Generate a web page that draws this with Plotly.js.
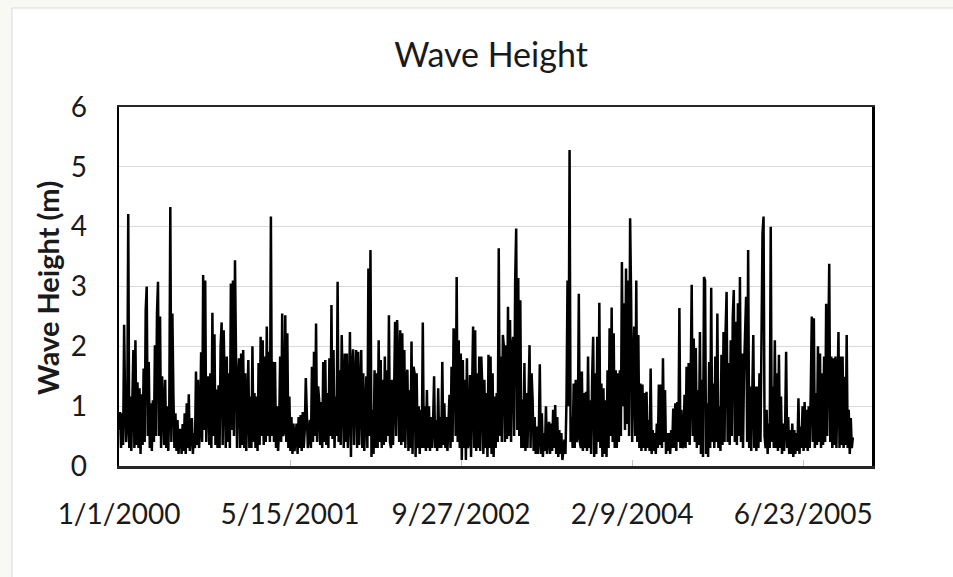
<!DOCTYPE html>
<html>
<head>
<meta charset="utf-8">
<script src="https://cdn.plot.ly/plotly-3.0.1.min.js"></script>
<style>
  html, body { margin: 0; padding: 0; background: #f8f8f4; }
  #chart { width: 953px; height: 577px; }
</style>
</head>
<body>
<div id="chart"></div>
<script>
// Significant wave height record, one reading every 3 days from 1 Jan 2000
const startDate = '2000-01-01';
const stepDays = 3;

const waveHeight = [
  // 2000
  0.6,0.9,0.3,0.88,0.35,2.36,1.0,0.4,0.7,4.21, 0.3,1.16,0.25,0.9,1.94,0.3,2.1,0.35,1.4,0.3,
  1.3,0.2,1.2,0.35,1.63,0.4,2.6,3.0,0.5,1.74, 0.3,1.05,0.25,1.1,0.4,2.02,0.5,2.55,3.08,0.5,
  2.5,0.3,1.5,1.0,0.35,1.44,0.3,1.0,0.25,1.0,
  4.33,0.4,2.55,1.2,0.3,0.88,0.25,0.77,0.2,0.6, 0.6,0.2,0.7,0.25,0.88,0.2,1.05,0.3,1.2,0.25,
  0.5,0.8,0.2,0.55,0.3,1.58,0.35,1.44,0.3,0.66, 1.9,0.4,3.19,0.6,3.1,0.4,1.3,1.5,0.35,1.55,
  0.3,2.56,0.5,2.2,0.35,1.28,0.3,1.35,0.3,2.0,
  2.4,0.35,2.27,1.44,0.3,1.83,0.4,1.55,0.3,3.05, 0.6,3.1,0.5,3.44,1.55,0.3,1.44,1.8,0.3,1.88,
  0.35,1.94,0.3,1.55,0.25,1.1,1.77,0.3,1.16,0.3, 2.0,0.4,1.22,0.3,1.16,0.25,1.72,0.35,2.16,0.5,
  2.1,0.35,1.83,0.4,2.33,0.5,1.91,0.4,4.17,0.5,
  // 2001
  1.74,0.4,1.74,0.3,1.0,0.25,0.6,1.83,0.4,2.55, 0.5,0.6,2.52,0.4,2.22,0.3,1.16,0.25,0.82,0.2,
  0.71,0.25,0.6,0.71,0.2,0.82,0.3,0.85,0.25,0.9, 0.3,0.6,1.47,0.94,0.3,0.5,0.77,0.3,1.66,0.4,
  1.91,0.5,2.38,0.4,1.33,1.1,0.35,1.07,0.3,1.74,
  0.4,1.77,0.35,1.22,0.3,1.8,0.5,2.69,0.45,1.94, 0.3,1.16,0.5,3.08,0.4,1.6,0.35,2.19,1.16,0.3,
  1.88,0.4,1.88,0.3,0.9,2.24,0.15,1.6,1.95,0.35, 1.4,1.94,0.3,1.91,0.35,1.5,1.94,0.3,1.55,0.25,
  1.2,1.5,0.3,3.3,0.5,3.61,0.15,0.94,0.2,1.6,
  // 2002
  0.3,1.55,0.3,2.1,0.4,1.77,0.3,1.44,0.35,1.83, 0.4,1.6,0.5,2.52,0.4,0.3,1.44,0.35,1.2,2.41,
  0.5,2.44,1.66,0.4,2.27,0.35,2.22,0.4,1.94,0.3, 1.5,1.61,0.25,1.27,0.3,2.08,0.2,1.66,1.55,0.15,
  1.55,0.3,1.0,0.2,0.94,0.3,2.4,0.3,1.0,0.25,
  1.27,0.3,1.0,0.25,0.82,0.3,0.71,1.5,0.3,0.77, 0.25,1.3,0.3,0.82,0.3,1.74,0.35,1.05,0.3,0.82,
  0.25,0.82,1.19,0.3,1.66,0.4,2.3,2.1,0.5,3.16, 0.4,2.1,0.3,1.88,0.1,1.77,0.3,1.44,0.1,1.8,
  0.3,0.4,1.52,0.15,1.55,2.33,0.3,2.27,0.25,1.55,
  // 2003
  0.3,1.83,0.25,1.83,1.33,0.2,1.44,0.3,1.22,0.15, 1.86,0.3,1.83,0.2,1.55,0.15,1.16,0.3,1.22,0.4,
  3.64,0.5,1.83,0.4,2.19,2.0,0.4,2.02,0.45,2.66, 0.5,2.44,0.4,1.97,2.16,0.5,3.11,3.97,0.6,3.14,
  0.5,2.77,0.3,1.11,0.3,1.72,0.25,1.22,0.3,1.05,
  2.02,0.3,1.55,1.11,0.25,0.82,0.2,0.66,0.2,0.5, 1.7,0.2,0.88,0.15,0.55,0.25,1.0,0.2,0.55,0.74,
  0.2,0.71,0.25,0.94,0.3,1.02,0.2,0.82,0.15,0.6, 0.2,0.55,0.1,0.35,0.44,0.2,1.1,3.1,1.0,5.28,
  0.4,0.82,0.3,1.38,0.3,1.44,0.4,0.5,2.88,0.4,
  // 2004
  0.3,1.58,0.25,1.22,0.3,1.24,0.25,1.83,0.3,1.1, 0.2,1.49,2.16,0.15,1.55,0.2,2.16,0.4,2.73,0.3,
  1.38,0.15,1.3,0.2,1.1,0.15,1.6,0.3,2.3,0.5, 2.65,0.4,2.22,0.3,1.6,0.3,1.55,0.4,1.6,0.5,
  3.41,1.0,2.72,0.6,3.3,0.7,3.1,0.5,4.14,2.77,
  0.4,1.6,2.33,0.5,3.1,0.4,2.19,0.3,1.38,0.25, 1.36,0.3,1.22,0.25,1.24,0.3,0.77,0.25,1.63,0.2,
  0.6,0.25,0.55,0.2,0.71,0.3,1.36,0.35,1.36,0.3, 1.8,0.4,1.27,0.2,0.55,0.25,0.55,0.2,0.6,0.3,
  0.96,0.3,1.05,0.25,1.07,0.4,2.64,0.3,0.94,0.3,
  0.35,1.19,0.3,1.66,0.4,1.72,0.35,1.44,3.03,0.5, 2.13,0.4,1.97,0.3,1.27,0.35,2.24,0.2,1.44,0.15,
  3.16,3.1,0.2,1.05,0.15,1.74,0.3,2.98,0.4,1.38, 0.3,1.83,0.4,2.55,0.3,1.0,0.25,1.86,0.35,2.24,
  0.4,2.24,2.91,0.4,1.72,0.35,2.1,0.5,2.48,2.94,
  // 2005
  0.4,2.41,0.35,2.72,0.5,3.16,0.4,1.88,0.3,1.6, 2.55,2.83,0.4,3.61,0.3,1.33,0.25,1.66,2.19,0.3,
  1.33,0.25,1.33,0.3,1.55,0.4,2.33,3.89,4.17,0.5, 0.3,0.94,0.2,0.71,0.3,4.0,0.4,1.33,0.3,2.1,
  0.3,1.55,0.25,1.86,0.3,1.16,0.2,0.71,0.25,0.66,
  1.91,0.3,0.82,0.2,0.6,0.2,0.71,0.15,0.6,0.2, 0.55,0.25,1.13,0.2,0.66,0.3,1.0,0.25,1.07,0.3,
  0.94,0.25,1.0,0.3,1.27,2.5,0.4,2.47,0.3,1.22, 0.35,2.0,0.4,1.88,0.3,1.55,0.35,1.83,0.4,2.71,
  0.5,2.1,3.38,0.4,1.83,0.3,1.8,0.35,1.83,0.3,
  1.83,2.24,0.3,1.83,0.35,1.83,0.3,1.49,0.35,2.19,0.3,0.94,0.2,0.8,0.3,0.48
];

const tickDates  = ['2000-01-01', '2001-05-15', '2002-09-27', '2004-02-09', '2005-06-23'];
const tickLabels = ['1/1/2000', '5/15/2001', '9/27/2002', '2/9/2004', '6/23/2005'];
const axisRange  = ['2000-01-01', '2006-01-10'];

// Build the date for each reading
const dayMs = 86400000;
const t0 = Date.parse(startDate + 'T00:00:00Z');
const dates = waveHeight.map((_, i) => new Date(t0 + i * stepDays * dayMs).toISOString().slice(0, 10));

const FONT = 'Lato, "Open Sans", sans-serif';
const TEXT = '#1a1a1a';

const trace = {
  type: 'scatter',
  mode: 'lines',
  x: dates,
  y: waveHeight,
  line: { color: '#000000', width: 2.5 },
  hoverinfo: 'skip',
  showlegend: false
};

// pixel helpers for the frame drawn around the chart
const plotL = 119, plotR = 872, plotT = 107, plotB = 466;
const px2x = p => (p - plotL) / (plotR - plotL);
const px2y = p => (plotB - p) / (plotB - plotT);

const layout = {
  width: 953,
  height: 577,
  margin: { l: plotL, r: 953 - plotR, t: plotT, b: 577 - plotB, pad: 0 },
  paper_bgcolor: '#f8f8f4',
  plot_bgcolor: '#ffffff',
  font: { family: FONT, color: TEXT },
  title: {
    text: 'Wave Height',
    font: { family: FONT, size: 34, color: TEXT },
    xref: 'container', yref: 'container',
    x: 491 / 953, xanchor: 'center',
    y: 1 - 55 / 577, yanchor: 'middle'
  },
  xaxis: {
    type: 'date',
    range: axisRange,
    tickvals: tickDates,
    ticktext: tickLabels,
    ticks: 'inside',
    ticklen: 6,
    tickwidth: 1,
    tickcolor: '#bfbfbf',
    showgrid: false,
    zeroline: false,
    showline: true,
    linecolor: '#262626',
    linewidth: 2.5,
    mirror: true,
    tickfont: { family: FONT, size: 28, color: TEXT },
    ticklabelstandoff: 22
  },
  yaxis: {
    range: [0, 6],
    tick0: 0,
    dtick: 1,
    ticks: '',
    showgrid: true,
    gridcolor: '#d9d9d9',
    gridwidth: 1,
    zeroline: false,
    showline: true,
    linecolor: '#000000',
    linewidth: 2.5,
    mirror: true,
    tickfont: { family: FONT, size: 28, color: TEXT },
    ticklabelstandoff: 24
  },
  annotations: [{
    text: 'Wave Height (m)',
    textangle: -90,
    xref: 'paper', yref: 'paper',
    x: px2x(47), y: px2y(288),
    xanchor: 'center', yanchor: 'middle',
    showarrow: false,
    font: { family: FONT, size: 29, color: TEXT, weight: 700 }
  }],
  shapes: [{
    type: 'rect',
    xref: 'paper', yref: 'paper',
    x0: px2x(12), x1: px2x(970),
    y0: px2y(600), y1: px2y(8),
    fillcolor: '#ffffff',
    line: { color: '#d9d9d9', width: 1 },
    layer: 'below'
  }]
};

Plotly.newPlot('chart', [trace], layout, { staticPlot: true, displayModeBar: false });
</script>
</body>
</html>
